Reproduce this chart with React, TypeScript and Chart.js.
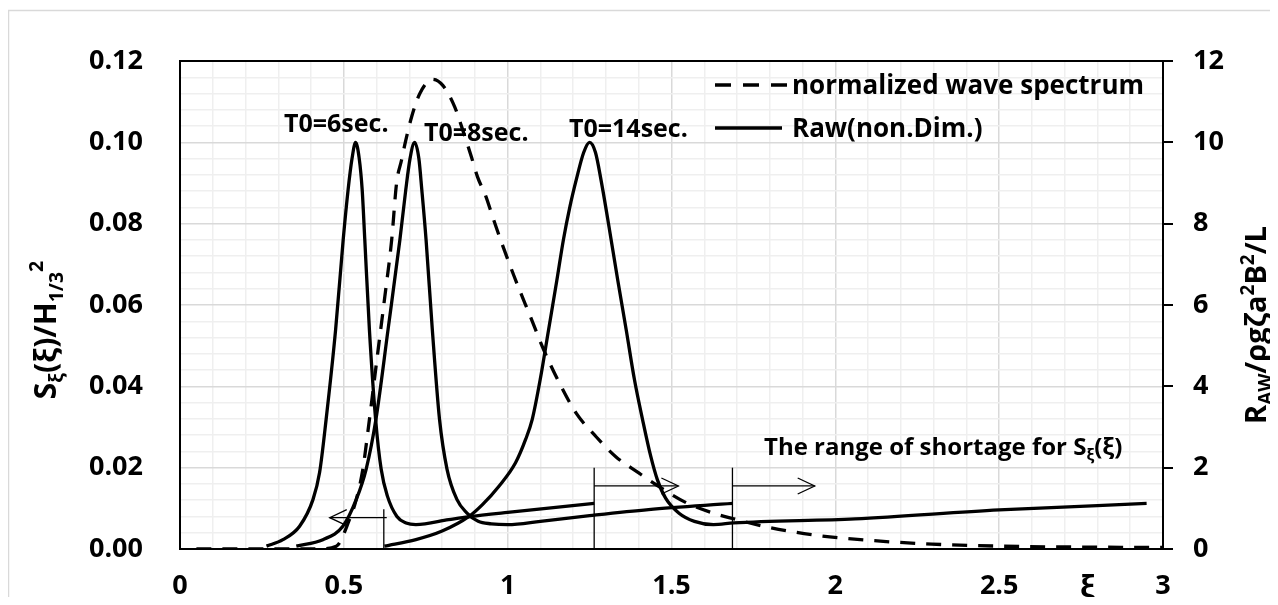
import React, { useEffect, useRef } from 'react';
import { Chart, registerables } from 'chart.js';

Chart.register(...registerables);

const FONT = '"Open Sans", "DejaVu Sans", sans-serif';

// Normalized wave spectrum S(xi)/H^2 (left axis)
const spectrumXi = [0.05, 0.2, 0.35, 0.42, 0.477, 0.517, 0.538, 0.558, 0.573, 0.60, 0.625, 0.646, 0.661, 0.676, 0.689, 0.707, 0.732, 0.771, 0.802, 0.838, 0.863, 0.889, 0.908, 0.934, 0.954, 0.975, 1.02, 1.07, 1.11, 1.158, 1.209, 1.27, 1.33, 1.40, 1.453, 1.547, 1.628, 1.686, 1.787, 1.94, 2.092, 2.295, 2.5, 2.7, 2.95, 3.0];
const spectrumVal = [0, 0, 0, 0, 0.0007, 0.0072, 0.0122, 0.0196, 0.0286, 0.046, 0.062, 0.076, 0.09, 0.0956, 0.1005, 0.1063, 0.112, 0.1155, 0.114, 0.1088, 0.103, 0.0965, 0.0915, 0.0866, 0.0817, 0.0768, 0.067, 0.057, 0.049, 0.0408, 0.0334, 0.0276, 0.0227, 0.0187, 0.0158, 0.0113, 0.0088, 0.0075, 0.0055, 0.0034, 0.0022, 0.0012, 0.0007, 0.0005, 0.0004, 0.0004];

// Raw (non-dim.) added resistance, right axis
const t6Xi = [0.264, 0.314, 0.365, 0.406, 0.426, 0.446, 0.475, 0.498, 0.513, 0.525, 0.536, 0.547, 0.556, 0.564, 0.578, 0.597, 0.614, 0.633, 0.662, 0.69, 0.72, 0.82, 0.88, 1.0, 1.264];
const t6R = [0.07, 0.23, 0.56, 1.22, 1.88, 3.19, 5.4, 7.6, 8.83, 9.6, 10.0, 9.6, 8.83, 7.6, 5.4, 3.19, 1.96, 1.3, 0.8, 0.64, 0.6, 0.72, 0.79, 0.9, 1.12];

const t8Xi = [0.355, 0.436, 0.497, 0.538, 0.568, 0.598, 0.635, 0.671, 0.689, 0.702, 0.716, 0.729, 0.738, 0.751, 0.77, 0.792, 0.815, 0.845, 0.875, 0.91, 0.95, 1.0, 1.1, 1.25, 1.43, 1.687];
const t8R = [0.07, 0.23, 0.56, 1.22, 1.96, 3.19, 5.4, 7.6, 8.83, 9.6, 10.0, 9.6, 8.83, 7.6, 5.4, 3.19, 1.96, 1.22, 0.89, 0.68, 0.62, 0.6, 0.68, 0.82, 0.97, 1.12];

const t14Xi = [0.624, 0.72, 0.80, 0.882, 0.923, 0.974, 1.024, 1.055, 1.075, 1.10, 1.125, 1.15, 1.17, 1.19, 1.21, 1.232, 1.25, 1.268, 1.285, 1.311, 1.336, 1.362, 1.387, 1.412, 1.436, 1.457, 1.482, 1.523, 1.57, 1.628, 1.69, 2.06, 2.5, 2.95];
const t14R = [0.07, 0.23, 0.44, 0.8, 1.09, 1.55, 2.12, 2.7, 3.19, 4.2, 5.4, 6.6, 7.6, 8.42, 9.1, 9.75, 10.0, 9.75, 9.07, 7.84, 6.61, 5.38, 4.16, 3.17, 2.3, 1.7, 1.25, 0.88, 0.68, 0.6, 0.64, 0.74, 0.96, 1.12];

// Range markers (right-axis units)
const markerXi = [0.622, 1.264, 1.686];
const markerTop = [0.98, 2.0, 2.0];
const arrowFromXi = [0.631, 1.264, 1.686];
const arrowToXi = [0.457, 1.521, 1.937];
const arrowR = [0.77, 1.55, 1.55];

// Tick labels
const xTickLabels = ['0', '0.5', '1', '1.5', '2', '2.5', '3'];
const leftTickLabels = ['0.00', '0.02', '0.04', '0.06', '0.08', '0.10', '0.12'];
const rightTickLabels = ['0', '2', '4', '6', '8', '10', '12'];

const peakLabels = ['T0=6sec.', 'T0=8sec.', 'T0=14sec.'];
const legendLabels = ['normalized wave spectrum', 'Raw(non.Dim.)'];

type Part = { t: string; sub?: boolean; sup?: boolean };

function setFont(ctx: CanvasRenderingContext2D, size: number) {
  ctx.font = `bold ${size}px ${FONT}`;
}

function richWidth(ctx: CanvasRenderingContext2D, parts: Part[], size: number) {
  let w = 0;
  for (const p of parts) {
    setFont(ctx, p.sub || p.sup ? size * 0.65 : size);
    w += ctx.measureText(p.t).width;
  }
  return w;
}

function drawRich(ctx: CanvasRenderingContext2D, parts: Part[], x: number, y: number, size: number) {
  let cx = x;
  ctx.textBaseline = 'alphabetic';
  ctx.textAlign = 'left';
  for (const p of parts) {
    const s = p.sub || p.sup ? size * 0.65 : size;
    setFont(ctx, s);
    const dy = p.sub ? size * 0.22 : p.sup ? -size * 0.42 : 0;
    ctx.fillText(p.t, cx, y + dy);
    cx += ctx.measureText(p.t).width;
  }
}

const leftTitle: Part[] = [
  { t: 'S' }, { t: 'ξ', sub: true }, { t: '(ξ)/H' }, { t: '1/3', sub: true }, { t: '2', sup: true },
];
const rightTitle: Part[] = [
  { t: 'R' }, { t: 'AW', sub: true }, { t: '/ρgζa' }, { t: '2', sup: true }, { t: 'B' }, { t: '2', sup: true }, { t: '/L' },
];
const rangeText: Part[] = [{ t: 'The range of shortage for S' }, { t: 'ξ', sub: true }, { t: '(ξ)' }];

const overlay = {
  id: 'overlay',
  beforeDraw(chart: any) {
    const ctx: CanvasRenderingContext2D = chart.ctx;
    ctx.save();
    ctx.fillStyle = '#fff';
    ctx.fillRect(0, 0, chart.width, chart.height);
    ctx.strokeStyle = '#d9d9d9';
    ctx.lineWidth = 1.5;
    ctx.beginPath();
    ctx.moveTo(8.5, chart.height);
    ctx.lineTo(8.5, 10.5);
    ctx.lineTo(chart.width, 10.5);
    ctx.stroke();
    ctx.restore();
  },
  afterDatasetsDraw(chart: any) {
    const ctx: CanvasRenderingContext2D = chart.ctx;
    const xs = chart.scales.x;
    const yr = chart.scales.y1;
    const area = chart.chartArea;
    ctx.save();
    // arrow heads
    ctx.strokeStyle = '#000';
    ctx.lineWidth = 1.3;
    for (let i = 0; i < arrowToXi.length; i++) {
      const tx = xs.getPixelForValue(arrowToXi[i]);
      const fx = xs.getPixelForValue(arrowFromXi[i]);
      const ty = yr.getPixelForValue(arrowR[i]);
      const dir = tx > fx ? 1 : -1;
      ctx.beginPath();
      ctx.moveTo(tx - dir * 17, ty - 8);
      ctx.lineTo(tx, ty);
      ctx.lineTo(tx - dir * 17, ty + 8);
      ctx.stroke();
    }
    // top border of plot area
    ctx.lineWidth = 2;
    ctx.beginPath();
    ctx.moveTo(area.left - 1, area.top);
    ctx.lineTo(area.right + 1, area.top);
    ctx.stroke();

    ctx.fillStyle = '#000';
    // peak labels
    drawRich(ctx, [{ t: peakLabels[0] }], 284, 131.5, 25);
    drawRich(ctx, [{ t: peakLabels[1] }], 424, 140.5, 25);
    drawRich(ctx, [{ t: peakLabels[2] }], 569, 136.5, 25);
    // range text
    drawRich(ctx, rangeText, 764, 455, 24);

    // legend
    ctx.lineWidth = 3.3;
    ctx.setLineDash([16, 12]);
    ctx.beginPath();
    ctx.moveTo(715, 85);
    ctx.lineTo(787, 85);
    ctx.stroke();
    ctx.setLineDash([]);
    ctx.beginPath();
    ctx.moveTo(715, 128);
    ctx.lineTo(782, 128);
    ctx.stroke();
    drawRich(ctx, [{ t: legendLabels[0] }], 792, 93.5, 26);
    drawRich(ctx, [{ t: legendLabels[1] }], 792, 137, 26);

    // x axis symbol
    drawRich(ctx, [{ t: 'ξ' }], 1080, 597, 30);

    // left title
    ctx.save();
    ctx.translate(56, 330);
    ctx.rotate(-Math.PI / 2);
    const lw = richWidth(ctx, leftTitle, 30);
    drawRich(ctx, leftTitle, -lw / 2, 0, 30);
    ctx.restore();

    // right title
    ctx.save();
    ctx.translate(1266, 325);
    ctx.rotate(-Math.PI / 2);
    const rw = richWidth(ctx, rightTitle, 29);
    drawRich(ctx, rightTitle, -rw / 2, 0, 29);
    ctx.restore();

    ctx.restore();
  },
};

function pts(xs: number[], ys: number[]) {
  return xs.map((x, i) => ({ x, y: ys[i] }));
}

export default function App() {
  const ref = useRef<HTMLCanvasElement>(null);
  useEffect(() => {
    const canvas = ref.current!;
    const curve = (label: string, xs: number[], ys: number[], axis: string, dash: number[] = []) => ({
      label,
      data: pts(xs, ys),
      yAxisID: axis,
      borderColor: '#000',
      borderWidth: 3.3,
      borderDash: dash,
      borderCapStyle: 'butt',
      pointRadius: 0,
      fill: false,
      cubicInterpolationMode: 'monotone',
    });
    const thin = (label: string, data: { x: number; y: number }[]) => ({
      label,
      data,
      yAxisID: 'y1',
      borderColor: '#000',
      borderWidth: 1.3,
      pointRadius: 0,
      fill: false,
      tension: 0,
    });
    const datasets: any[] = [
      curve(legendLabels[0], spectrumXi, spectrumVal, 'y', [15, 11]),
      curve(peakLabels[0], t6Xi, t6R, 'y1'),
      curve(peakLabels[1], t8Xi, t8R, 'y1'),
      curve(peakLabels[2], t14Xi, t14R, 'y1'),
    ];
    markerXi.forEach((m, i) => {
      datasets.push(thin('marker' + i, [{ x: m, y: 0 }, { x: m, y: markerTop[i] }]));
      datasets.push(thin('arrow' + i, [{ x: arrowFromXi[i], y: arrowR[i] }, { x: arrowToXi[i], y: arrowR[i] }]));
    });

    const tickFont = { family: FONT, size: 27, weight: 'bold' as const };
    const chart = new Chart(canvas, {
      type: 'line',
      data: { datasets },
      options: {
        animation: false,
        responsive: false,
        maintainAspectRatio: false,
        devicePixelRatio: 1,
        layout: { padding: { top: 61, left: 0, right: 0, bottom: 0 } },
        plugins: { legend: { display: false }, tooltip: { enabled: false } },
        scales: {
          x: {
            type: 'linear',
            min: 0,
            max: 3,
            afterFit: (s: any) => { s.height = 56; },
            ticks: {
              stepSize: 0.1,
              maxTicksLimit: 100,
              autoSkip: false,
              maxRotation: 0,
              padding: 21,
              color: '#000',
              font: tickFont,
              callback: (v: any) => {
                const k = Math.round(Number(v) * 10);
                return k % 5 === 0 ? xTickLabels[k / 5] : '';
              },
            },
            grid: {
              drawTicks: false,
              lineWidth: 1.5,
              color: (c: any) => (Math.round(c.tick.value * 10) % 5 === 0 ? '#d9d9d9' : '#efefef'),
            },
            border: { display: true, color: '#000', width: 2 },
          },
          y: {
            type: 'linear',
            position: 'left',
            min: 0,
            max: 0.12,
            afterFit: (s: any) => { s.width = 180; },
            ticks: {
              stepSize: 0.004,
              maxTicksLimit: 100,
              autoSkip: false,
              padding: 37,
              color: '#000',
              font: tickFont,
              callback: (v: any) => {
                const k = Math.round(Number(v) * 250);
                return k % 5 === 0 ? leftTickLabels[k / 5] : '';
              },
            },
            grid: {
              drawTicks: false,
              lineWidth: 1.5,
              color: (c: any) => (Math.round(c.tick.value * 250) % 5 === 0 ? '#d9d9d9' : '#efefef'),
            },
            border: { display: true, color: '#000', width: 2 },
          },
          y1: {
            type: 'linear',
            position: 'right',
            min: 0,
            max: 12,
            afterFit: (s: any) => { s.width = 115; },
            ticks: {
              stepSize: 2,
              padding: 20,
              color: '#000',
              font: tickFont,
              callback: (v: any) => rightTickLabels[Math.round(Number(v) / 2)],
            },
            grid: {
              drawOnChartArea: false,
              drawTicks: true,
              tickLength: 10,
              color: '#000',
              lineWidth: 2,
            },
            border: { display: true, color: '#000', width: 2 },
          },
        },
      },
      plugins: [overlay],
    } as any);
    return () => chart.destroy();
  }, []);
  return (
    <div style={{ margin: '-8px', width: 1278, height: 605, background: '#fff' }}>
      <canvas ref={ref} width={1278} height={605} style={{ display: 'block', width: 1278, height: 605 }} />
    </div>
  );
}
